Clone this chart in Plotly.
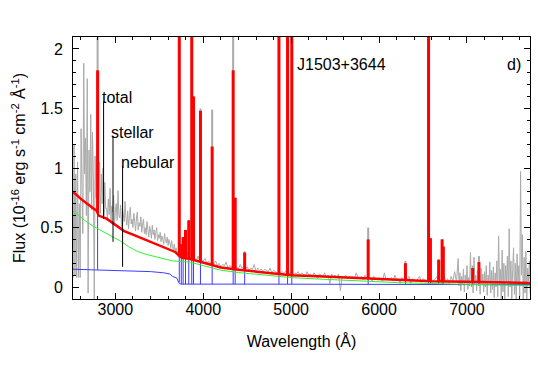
import plotly.graph_objects as go

# observed spectrum (grey), four wavelength segments
obs_a_start, obs_a_step = 2520, 10
obs_a_flux = [0.08, 1.20, 0.10, 0.95, 0.08, 1.05, 0.08, 0.70, 0.08, 1.33,
              0.85, 0.45, 1.88, 0.95, 1.25, 0.60, 1.75, -0.05, 1.15, 0.80,
              1.45, 0.65, 1.30, 0.90, -0.10, 1.10, 0.75, 1.20, 0.90, 0.70,
              1.05, 0.62, 0.95, 0.70, 1.00, 0.60, 0.88, 0.66]
obs_b_start, obs_b_step = 2900, 10
obs_b_flux = [0.66, 0.58, 0.74, 0.61, 0.83, 0.55, 0.68, 0.63, 0.77, 0.52,
              0.64, 0.70, 0.56, 0.81, 0.60, 0.58, 0.69, 0.50, 0.66, 0.61,
              0.55, 0.72, 0.58, 0.52, 0.64, 0.49, 0.60, 0.67, 0.53, 0.57,
              0.50, 0.62, 0.55, 0.47, 0.58, 0.63, 0.48, 0.54, 0.51, 0.59,
              0.46, 0.53, 0.57, 0.45, 0.50, 0.44, 0.55, 0.48, 0.42, 0.51,
              0.47, 0.41, 0.52, 0.44, 0.48, 0.40, 0.46, 0.50, 0.39, 0.44,
              0.41, 0.46, 0.38, 0.43, 0.40, 0.36, 0.45, 0.39, 0.37, 0.42,
              0.35, 0.40, 0.37, 0.33, 0.39, 0.34, 0.31, 0.36, 0.30, 0.33]
obs_c_start, obs_c_step = 3700, 20
obs_c_flux = [0.28, 0.25, 0.27, 0.24, 0.26, 0.25, 0.29, 0.24, 0.26, 0.23,
              0.25, 0.22, 0.26, 0.21, 0.23, 0.22, 0.24, 0.20, 0.22, 0.19,
              0.21, 0.19, 0.22, 0.18, 0.20, 0.17, 0.19, 0.18, 0.21, 0.16,
              0.18, 0.17, 0.19, 0.16, 0.17, 0.15, 0.19, 0.16, 0.17, 0.15,
              0.17, 0.14, 0.16, 0.15, 0.19, 0.13, 0.16, 0.14, 0.15, 0.13,
              0.15, 0.14, 0.13, 0.16, 0.12, 0.14, 0.13, 0.12, 0.14, 0.12,
              0.13, 0.11, 0.14, 0.12, 0.11, 0.13, 0.10, 0.12, 0.11, 0.13,
              0.10, 0.12, 0.11, 0.09, 0.13, 0.10, 0.11, 0.09, 0.12, 0.10,
              0.07, 0.11, 0.10, 0.09, 0.12, 0.08, 0.10, 0.03, 0.11, 0.09,
              0.10, 0.08, 0.11, -0.03, 0.09, 0.08, 0.10, 0.07, 0.09, 0.08,
              0.09, 0.07, 0.12, 0.08, 0.07, 0.09, 0.06, 0.10, 0.07, 0.06,
              0.08, 0.05, 0.09, 0.07, 0.06, 0.08, 0.07, 0.05, 0.12, 0.06,
              0.07, 0.06, 0.08, 0.05, 0.10, 0.06, 0.07, 0.03, 0.08, 0.06,
              0.07, 0.06, 0.09, 0.03, 0.07, 0.06, 0.05, 0.07, 0.09, 0.04,
              0.07, 0.06, 0.05, 0.07, 0.08, 0.04, 0.06, 0.07, 0.09, 0.04,
              0.06, 0.08, 0.10, 0.04, 0.07, 0.03, 0.09, 0.05, 0.13, 0.04]
obs_d_start, obs_d_step = 6900, 10
obs_d_flux = [0.24, 0.01, 0.12, -0.03, 0.09, 0.02, 0.15, -0.04, 0.10, 0.03,
              0.18, -0.02, 0.08, 0.01, 0.29, 0.00, 0.12, -0.05, 0.25, 0.02,
              0.10, -0.03, 0.14, 0.01, 0.09, -0.06, 0.16, 0.02, 0.11, -0.04,
              0.13, 0.00, 0.18, -0.07, 0.10, 0.03, 0.21, -0.05, 0.14, -0.02,
              0.17, -0.09, 0.12, 0.00, 0.22, -0.08, 0.43, 0.02, 0.15, -0.10,
              0.31, -0.04, 0.20, -0.10, 0.18, 0.05, 0.26, -0.08, 0.49, 0.00,
              0.22, -0.10, 0.15, 0.33, -0.06, 0.20, -0.10, 0.28, 0.03, 0.18,
              -0.08, 0.97, 0.10, 0.44, -0.10, 0.25, -0.05, 0.30, -0.10, 0.16,
              0.05, 0.22, -0.06, 0.12, 0.04]

# model continua
total_wave = [2510, 2550, 2600, 2650, 2700, 2750, 2790, 2810, 2900, 3000, 3100,
              3200, 3300, 3400, 3500, 3600, 3680, 3720, 3760, 3850, 4000,
              4200, 4400, 4600, 4800, 5000, 5300, 5600, 5900, 6200, 6600,
              7000, 7400, 7740]
total_flux = [0.80, 0.78, 0.745, 0.715, 0.69, 0.66, 0.64, 0.60, 0.575, 0.525, 0.47,
              0.44, 0.41, 0.38, 0.35, 0.32, 0.295, 0.27, 0.245, 0.235, 0.205,
              0.165, 0.145, 0.13, 0.112, 0.10, 0.09, 0.08, 0.068, 0.058, 0.05,
              0.045, 0.04, 0.035]
stellar_wave = [2510, 2550, 2650, 2750, 2850, 2950, 3050, 3150, 3250, 3350, 3450,
                3550, 3650, 3750, 3850, 4000, 4200, 4400, 4600, 4800, 5000,
                5300, 5600, 5900, 6200, 6600, 7000, 7400, 7740]
stellar_flux = [0.645, 0.62, 0.56, 0.51, 0.47, 0.43, 0.39, 0.34, 0.30, 0.275, 0.255,
                0.235, 0.22, 0.215, 0.21, 0.18, 0.142, 0.122, 0.107, 0.09, 0.08,
                0.068, 0.057, 0.047, 0.038, 0.03, 0.025, 0.018, 0.012]
nebular_wave = [2510, 2790, 3000, 3200, 3400, 3550, 3620, 3650, 3680, 3700,
                3720, 3740, 4500, 5600, 5650, 7740]
nebular_flux = [0.15, 0.145, 0.142, 0.135, 0.13, 0.12, 0.11, 0.09, 0.08, 0.075,
                0.04, 0.025, 0.025, 0.024, 0.02, 0.02]

# emission lines: wavelength, model peak, continuum level under it, observed peak
line_wave = [2798, 3727, 3750, 3771, 3798, 3835, 3869, 3889, 3968, 4101,
             4340, 4363, 4471, 4861, 4959, 5007, 5876, 6300, 6563, 6584,
             6678, 6717, 6731, 7065, 7136]
line_peak = [1.82, 3.0, 0.36, 0.42, 0.48, 0.56, 3.0, 1.6, 1.48, 1.18,
             1.82, 0.75, 0.29, 3.0, 3.0, 3.0, 0.40, 0.20, 3.0, 0.41,
             0.23, 0.40, 0.34, 0.16, 0.21]
line_base = [0.62, 0.26, 0.245, 0.243, 0.24, 0.236, 0.233, 0.23, 0.215, 0.19,
             0.155, 0.153, 0.145, 0.108, 0.104, 0.102, 0.068, 0.058, 0.05, 0.05,
             0.05, 0.05, 0.05, 0.045, 0.045]
neb_peak = [0.85, 3.0, 0.36, 0.42, 0.48, 0.56, 3.0, 1.6, 1.48, 1.18,
            1.82, 0.75, 0.29, 3.0, 3.0, 3.0, 0.40, 0.20, 3.0, 0.41,
            0.23, 0.40, 0.34, 0.16, 0.21]
neb_base = [0.145, 0.04, 0.025, 0.025, 0.025, 0.025, 0.025, 0.025, 0.025, 0.025,
            0.025, 0.025, 0.025, 0.025, 0.025, 0.025, 0.02, 0.02, 0.02, 0.02,
            0.02, 0.02, 0.02, 0.02, 0.02]
obs_peak = [2.3, 3.0, 0.36, 0.42, 0.48, 0.56, 3.0, 1.6, 1.5, 1.49,
            2.3, 0.75, 0.3, 3.0, 3.0, 3.0, 0.50, 0.22, 3.0, 0.41,
            0.23, 0.40, 0.34, 0.18, 0.26]

# label pointers
label_text = ["total", "stellar", "nebular"]
label_wave = [2866, 2973, 3082]
label_top = [1.56, 1.27, 1.02]
label_bottom = [0.575, 0.38, 0.17]

FONT = "Liberation Sans, Arial, Helvetica, sans-serif"


def spikes(waves, lows, highs):
    xs, ys = [], []
    for w, lo, hi in zip(waves, lows, highs):
        xs += [w, w, None]
        ys += [lo, hi, None]
    return xs, ys


obs_wave, obs_flux = [], []
for start, step, flux in [(obs_a_start, obs_a_step, obs_a_flux),
                          (obs_b_start, obs_b_step, obs_b_flux),
                          (obs_c_start, obs_c_step, obs_c_flux),
                          (obs_d_start, obs_d_step, obs_d_flux)]:
    obs_wave += [start + step * i for i in range(len(flux))]
    obs_flux += flux

fig = go.Figure()

grey = "#aaaaaa"
fig.add_trace(go.Scatter(x=obs_wave, y=obs_flux, mode="lines",
                         line=dict(color=grey, width=1, simplify=False)))
sx, sy = spikes(line_wave, line_base, obs_peak)
fig.add_trace(go.Scatter(x=sx, y=sy, mode="lines", line=dict(color=grey, width=2)))

blue = "#3c3cff"
fig.add_trace(go.Scatter(x=nebular_wave, y=nebular_flux, mode="lines",
                         line=dict(color=blue, width=1)))
sx, sy = spikes(line_wave, neb_base, neb_peak)
fig.add_trace(go.Scatter(x=sx, y=sy, mode="lines", line=dict(color=blue, width=1)))

fig.add_trace(go.Scatter(x=stellar_wave, y=stellar_flux, mode="lines",
                         line=dict(color="#33ee33", width=1)))

red = "#ff0000"
fig.add_trace(go.Scatter(x=total_wave, y=total_flux, mode="lines",
                         line=dict(color=red, width=2.5)))
sx, sy = spikes(line_wave, line_base, line_peak)
fig.add_trace(go.Scatter(x=sx, y=sy, mode="lines", line=dict(color=red, width=3)))

sx, sy = spikes(label_wave, label_bottom, label_top)
fig.add_trace(go.Scatter(x=sx, y=sy, mode="lines", line=dict(color="black", width=1)))

for txt, w, top in zip(label_text, label_wave, label_top):
    fig.add_annotation(x=w, y=top, text=txt, showarrow=False, xanchor="left",
                       yanchor="bottom", xshift=-4, yshift=-7,
                       font=dict(size=16, color="black", family=FONT))

fig.add_annotation(x=5070, y=1.865, text="J1503+3644", showarrow=False,
                   xanchor="left", yanchor="middle", xshift=-2,
                   font=dict(size=16, color="black", family=FONT))
fig.add_annotation(x=7600, y=1.865, text="d)", showarrow=False,
                   xanchor="right", yanchor="middle", xshift=3,
                   font=dict(size=16, color="black", family=FONT))

axis_common = dict(showgrid=False, zeroline=False, showline=True, linecolor="black",
                   linewidth=1, mirror="allticks", ticks="inside", ticklen=6,
                   tickcolor="black", tickfont=dict(size=16, family=FONT, color="black"))

fig.update_layout(
    width=538, height=366,
    margin=dict(l=73, r=8, t=37, b=67),
    plot_bgcolor="white", paper_bgcolor="white",
    showlegend=False,
    xaxis=dict(range=[2518, 7717], tick0=0, dtick=1000,
               minor=dict(dtick=200, ticks="inside", ticklen=3, tickcolor="black"),
               title=dict(text="Wavelength (Å)", font=dict(size=16, family=FONT, color="black"),
                          standoff=18),
               ticklabelstandoff=-4, **axis_common),
    yaxis=dict(range=[-0.1, 2.1], tick0=0, dtick=0.5,
               minor=dict(dtick=0.1, ticks="inside", ticklen=3, tickcolor="black"),
               title=dict(text="Flux (10<sup>-16</sup> erg s<sup>-1</sup> cm<sup>-2</sup> Å<sup>-1</sup>)",
                          font=dict(size=16, family=FONT, color="black"), standoff=10),
               ticklabelstandoff=6, **axis_common),
)

# page body has a default 8px margin; drop it so the figure fills the window
fig.write_html("out.html", config={"displayModeBar": False},
               post_script="document.body.style.margin='0px';")
